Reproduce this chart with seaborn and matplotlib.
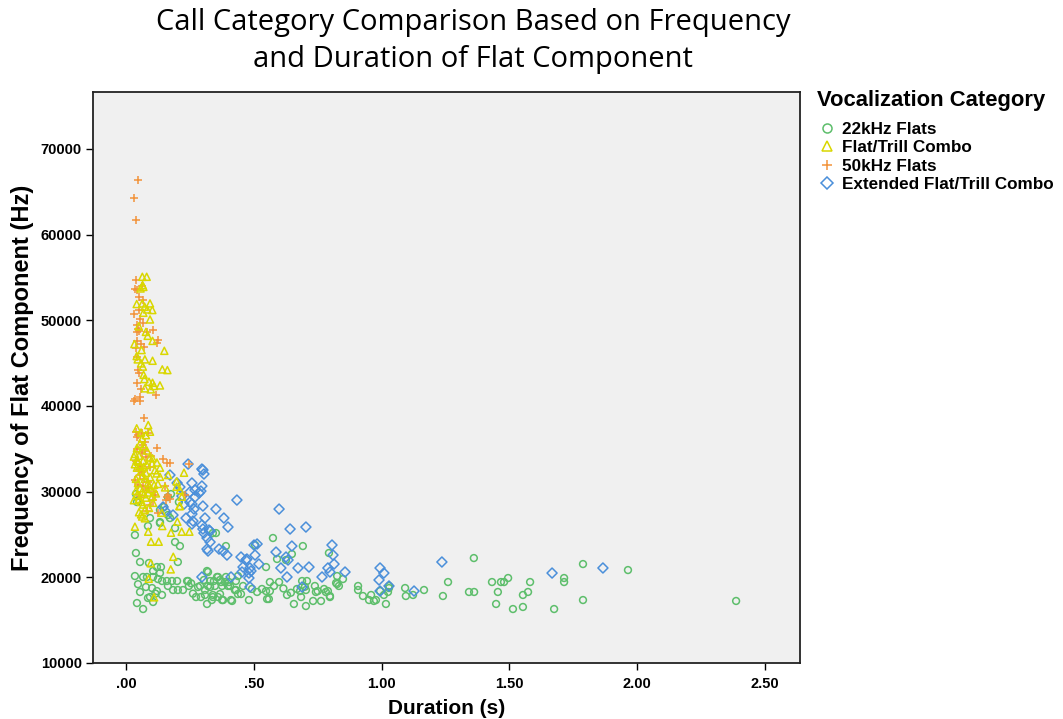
import matplotlib
matplotlib.use("Agg")
import matplotlib.pyplot as plt
import seaborn as sns
import pandas as pd
from matplotlib.lines import Line2D

categories = ["22kHz Flats", "Flat/Trill Combo", "50kHz Flats", "Extended Flat/Trill Combo"]
colors = ["#5DBE6B", "#D9D700", "#F2933A", "#4A8FDA"]
markers = ["o", "^", "+", "D"]

green_dur = [1.361, 1.260, 1.432, 1.467, 1.479, 1.495, 1.581, 1.455, 1.573, 1.553, 1.448, 1.514, 1.553, 1.675,
             1.714, 1.714, 1.788, 1.788, 1.964, 2.387, 1.342, 1.362, 1.240, 1.166, 1.123, 1.095, 1.092, 1.029,
             1.029, 1.017, 1.025, 0.994, 1.009, 0.959, 0.951, 0.970, 0.978, 0.927, 0.908, 0.908, 0.849, 0.833,
             0.822, 0.826, 0.798,
             0.340, 0.352, 0.391, 0.505, 0.575, 0.692, 0.794, 0.649, 0.591, 0.626, 0.548, 0.321, 0.438, 0.305,
             0.329, 0.344, 0.360, 0.372, 0.391, 0.403, 0.376, 0.348, 0.321, 0.290, 0.430, 0.458, 0.493, 0.513,
             0.532, 0.548, 0.563, 0.563, 0.579, 0.599, 0.669, 0.681, 0.630, 0.685, 0.704, 0.689, 0.708, 0.739,
             0.743, 0.775, 0.790, 0.782, 0.798, 0.826, 0.763, 0.732, 0.704, 0.657, 0.552, 0.559, 0.481, 0.450,
             0.438, 0.430, 0.415, 0.376, 0.336, 0.317, 0.309, 0.340, 0.368, 0.399,
             0.043, 0.094, 0.133, 0.035, 0.192, 0.211, 0.039, 0.055, 0.090, 0.121, 0.137, 0.106, 0.133, 0.035,
             0.067, 0.082, 0.106, 0.125, 0.141, 0.160, 0.180, 0.200, 0.243, 0.078, 0.102, 0.121, 0.164, 0.184,
             0.203, 0.223, 0.246, 0.282, 0.309, 0.329, 0.356, 0.368, 0.387, 0.407, 0.426, 0.055, 0.094, 0.141,
             0.086, 0.106, 0.043, 0.067, 0.274, 0.293, 0.340, 0.360, 0.380, 0.411, 0.317, 0.239, 0.203, 0.192,
             0.164, 0.133, 0.207, 0.039, 0.164, 0.176, 0.149, 0.172, 0.133, 0.086, 0.047, 0.115, 0.255, 0.262,
             0.616, 0.645, 0.700, 0.750]
green_freq = [22250, 19450, 19450, 19450, 19450, 19920, 19450, 18290, 18290, 17940, 16890, 16300, 16540, 16300,
              19920, 19450, 21550, 17350, 20850, 17240, 18290, 18290, 17820, 18520, 17940, 17820, 18750, 18750,
              18990, 16890, 18290, 18400, 17940, 17940, 17350, 17240, 17350, 17820, 18990, 18520, 19800, 18990,
              19340, 20150, 17820,
              25170, 25170, 23650, 23770, 24590, 23650, 22840, 22720, 22140, 22020, 21200, 20620, 20150, 19690,
              19570, 19570, 20040, 19450, 20040, 19450, 18990, 18990, 18990, 18990, 19570, 18990, 18640, 18290,
              18640, 18400, 18400, 19450, 18990, 19450, 18640, 18400, 17940, 17700, 18520, 19570, 19570, 18990,
              18290, 18640, 18400, 18290, 17700, 19220, 17240, 17240, 16650, 16890, 17470, 17470, 17350, 18050,
              18050, 18520, 17240, 17350, 17350, 16890, 17940, 17940, 18050, 18990,
              28790, 26920, 26340, 24940, 24120, 23650, 22840, 21790, 21670, 21200, 21200, 20740, 20500, 20150,
              20040, 20040, 20040, 19800, 19570, 19570, 19570, 19570, 19570, 18870, 18750, 18400, 18990, 18520,
              18520, 18520, 18990, 18870, 18520, 18870, 20040, 19690, 19450, 18990, 18520, 18290, 17700, 17940,
              17590, 17120, 17000, 16300, 17700, 17700, 17700, 17700, 17350, 17350, 20740, 19570, 21790, 25750,
              27270, 27860, 28790, 29720, 29370, 29720, 28210, 26920, 26450, 25990, 19200, 18100, 19300, 18100,
              18700, 18200, 18900, 18400]

yellow_dur = [0.064, 0.081, 0.065, 0.057, 0.068, 0.094, 0.042, 0.064, 0.073, 0.083, 0.103, 0.068, 0.094, 0.078,
              0.085, 0.104, 0.150, 0.033, 0.061, 0.042, 0.046, 0.059, 0.074, 0.104, 0.142, 0.162, 0.069, 0.072,
              0.090, 0.104, 0.110, 0.133, 0.097, 0.074,
              0.087, 0.042, 0.094, 0.042, 0.104, 0.133, 0.120, 0.165, 0.227, 0.211, 0.153, 0.198, 0.218, 0.211,
              0.035, 0.043, 0.047, 0.051, 0.055, 0.059, 0.063, 0.067, 0.070, 0.074, 0.078, 0.082, 0.086, 0.090,
              0.039, 0.047, 0.055, 0.063, 0.070, 0.078, 0.086, 0.043, 0.051, 0.059, 0.067, 0.039, 0.094, 0.098,
              0.102, 0.110, 0.117, 0.125, 0.055, 0.063, 0.070, 0.035, 0.043, 0.031, 0.051, 0.063, 0.074, 0.090,
              0.106, 0.082, 0.094, 0.102, 0.113, 0.121, 0.133, 0.078,
              0.035, 0.074, 0.087, 0.098, 0.128, 0.142, 0.176, 0.209, 0.201, 0.218, 0.248, 0.185, 0.175, 0.097,
              0.089, 0.110, 0.059, 0.140, 0.198, 0.031, 0.059, 0.066, 0.050]
yellow_freq = [55080, 55080, 54110, 53720, 53900, 51970, 51900, 51970, 51580, 51270, 51200, 50880, 50100, 48650,
               48190, 47600, 46440, 47230, 46530, 45830, 45440, 44970, 45440, 45280, 44270, 44190, 43640, 43140,
               42830, 42710, 42330, 42400, 41940, 42060,
               37770, 37390, 37000, 33690, 33890, 31740, 32130, 31940, 32210, 30190, 30500, 30580, 29410, 28320,
               33200, 32800, 33500, 34200, 33000, 32400, 31800, 33600, 32900, 31500, 32200, 33100, 31000, 30600,
               31500, 31000, 30400, 30000, 29700, 29300, 29900, 29600, 29100, 28800, 28500, 30100, 31700, 30300,
               29400, 30800, 29800, 30900, 35600, 36200, 35300, 34400, 35100, 29000, 27600, 27100, 27900, 28100,
               28700, 34800, 34000, 33300, 32500, 33400, 32800, 36600,
               25910, 26890, 25330, 24160, 24160, 25990, 25210, 28320, 26490, 25330, 25330, 22400, 20930, 21640,
               19840, 17670, 27350, 27540, 31200, 34100, 36900, 44600, 49300]

orange_dur = [0.047, 0.030, 0.039, 0.039, 0.035, 0.043, 0.063, 0.051, 0.067, 0.031, 0.051, 0.055, 0.067, 0.043,
              0.047, 0.051, 0.043, 0.082, 0.106, 0.125, 0.121, 0.043, 0.059, 0.070, 0.039, 0.043, 0.047, 0.051,
              0.043, 0.059, 0.117, 0.055, 0.035, 0.031, 0.055, 0.070, 0.039, 0.047, 0.063, 0.043, 0.074, 0.086,
              0.121, 0.067, 0.063, 0.074, 0.145, 0.160, 0.172, 0.051, 0.094, 0.055, 0.067, 0.078, 0.110, 0.164,
              0.172, 0.106, 0.156, 0.094, 0.246, 0.086, 0.035, 0.153, 0.113, 0.231, 0.160, 0.086, 0.059, 0.078,
              0.125, 0.043, 0.098, 0.055, 0.047, 0.039, 0.063, 0.070, 0.082]
orange_freq = [66400, 64270, 61700, 54700, 53650, 53530, 54000, 52700, 52360, 50730, 51200, 50150, 49680, 49450,
               48980, 48800, 48630, 48630, 48860, 47700, 47400, 47580, 47230, 46880, 46760, 45710, 44190, 43840,
               42680, 41980, 41280, 41040, 40810, 40580, 40580, 38590, 36960, 36610, 36840, 36400, 35790, 36840,
               35090, 35440, 34510, 34800, 33810, 33340, 33340, 32520, 32870, 31900, 30660, 30200, 29960, 29610,
               29200, 29020, 29020, 28440, 33220, 31120, 31400, 30660, 29610, 29610, 29370, 30420, 33000, 34000,
               27510, 35000, 34200, 29500, 30800, 33600, 32300, 31500, 27800]

blue_dur = [0.243, 0.297, 0.305, 0.172, 0.200, 0.211, 0.258, 0.297, 0.250, 0.270, 0.286, 0.293, 0.219, 0.270,
            0.250, 0.434, 0.258, 0.227, 0.301, 0.145, 0.266, 0.352, 0.153, 0.258, 0.184, 0.309, 0.235, 0.383,
            0.599, 0.262, 0.258, 0.297, 0.399, 0.642, 0.704, 0.329, 0.305, 0.317, 0.329, 0.513, 0.501, 0.649,
            0.806, 0.317, 0.321, 0.364, 0.380, 0.395, 0.587, 0.626, 0.634, 0.810, 0.450, 0.469, 0.520, 0.606,
            0.673, 0.716, 0.814, 0.790, 0.458, 0.485, 0.454, 0.481, 0.489, 0.481, 0.630, 0.767, 0.297, 0.689,
            0.485, 0.411, 0.857, 0.994, 1.009, 0.990, 1.029, 0.994, 1.127, 1.236, 1.667, 1.866, 0.798, 0.325,
            0.301, 0.473, 0.505, 0.301]
blue_freq = [33220, 32640, 32060, 31940, 31010, 30540, 31010, 30660, 29960, 30190, 29840, 30070, 29490, 29370,
             28790, 29020, 28550, 28550, 28320, 28210, 27970, 27970, 27740, 27390, 27270, 26920, 26920, 26920,
             27970, 26570, 26220, 26100, 25870, 25640, 25870, 25400, 25170, 24590, 24120, 23890, 23770, 23650,
             23770, 23300, 23070, 23300, 23070, 22600, 22950, 22370, 22020, 22600, 22370, 22020, 21550, 21090,
             21090, 21200, 21550, 21090, 21200, 21090, 20620, 20500, 20740, 19920, 20040, 20040, 20040, 18870,
             18870, 20040, 20620, 21090, 20500, 19690, 18990, 18400, 18400, 21790, 20500, 21090, 20620, 25520,
             25640, 22140, 22600, 32520]

x_ticks = [0.0, 0.5, 1.0, 1.5, 2.0, 2.5]
x_tick_labels = [".00", ".50", "1.00", "1.50", "2.00", "2.50"]
y_ticks = [10000, 20000, 30000, 40000, 50000, 60000, 70000]

series = [(green_dur, green_freq), (yellow_dur, yellow_freq), (orange_dur, orange_freq), (blue_dur, blue_freq)]
frames = []
for cat, (d, f) in zip(categories, series):
    frames.append(pd.DataFrame({"Duration": d, "Frequency": f, "Category": cat}))
df = pd.concat(frames, ignore_index=True)

sns.set_theme(style="white")
plt.rcParams["font.family"] = ["Liberation Sans", "DejaVu Sans"]
plt.rcParams["text.color"] = "black"
plt.rcParams["axes.labelcolor"] = "black"
plt.rcParams["xtick.color"] = "black"
plt.rcParams["ytick.color"] = "black"

fig = plt.figure(figsize=(10.63, 7.19), dpi=100)
ax = fig.add_axes([93 / 1063, 1 - 663 / 719, (800 - 93) / 1063, (663 - 92) / 719])
ax.set_facecolor("#F0F0F0")

sizes = {"o": 24, "^": 26, "+": 36, "D": 26}
draw_order = [0, 3, 2, 1]
for i in draw_order:
    cat = categories[i]
    sub = df[df["Category"] == cat]
    m = markers[i]
    if m == "+":
        sns.scatterplot(data=sub, x="Duration", y="Frequency", marker=m, color=colors[i],
                        s=sizes[m], linewidth=1.1, ax=ax, legend=False, zorder=3)
    else:
        sns.scatterplot(data=sub, x="Duration", y="Frequency", marker=m, s=sizes[m],
                        facecolor="none", edgecolor=colors[i], linewidth=1.1, ax=ax,
                        legend=False, zorder=3)

ax.set_xlim(-0.129, 2.637)
ax.set_ylim(10000, 76650)
ax.set_xticks(x_ticks)
ax.set_xticklabels(x_tick_labels)
ax.set_yticks(y_ticks)
ax.set_yticklabels([str(v) for v in y_ticks])

for lab in ax.get_xticklabels() + ax.get_yticklabels():
    lab.set_fontfamily(["Liberation Sans Narrow", "Liberation Sans"])
    lab.set_fontweight("bold")
    lab.set_fontsize(10.5)
    lab.set_color("black")
ax.tick_params(axis="both", direction="out", length=5, width=1, color="black", bottom=True, left=True)
ax.tick_params(axis="x", pad=5)
ax.tick_params(axis="y", pad=3)

for sp in ax.spines.values():
    sp.set_color("#222222")
    sp.set_linewidth(1.3)

ax.set_xlabel("Duration (s)", fontsize=15, fontweight="bold", labelpad=6, color="black")
ax.set_ylabel("Frequency of Flat Component (Hz)", fontsize=17, fontweight="bold", labelpad=5, color="black")

fig.text(473 / 1063, 1 - 41 / 719, "Call Category Comparison Based on Frequency\nand Duration of Flat Component",
         ha="center", va="center", fontsize=21, family=["Open Sans", "DejaVu Sans"], linespacing=1.32,
         color="black")

handles = []
for i, cat in enumerate(categories):
    m = markers[i]
    if m == "+":
        h = Line2D([], [], linestyle="none", marker=m, color=colors[i], markersize=7, markeredgewidth=1.1)
    else:
        h = Line2D([], [], linestyle="none", marker=m, markerfacecolor="none", markeredgecolor=colors[i],
                   markersize=6.5 if m != "D" else 6, markeredgewidth=1.1)
    handles.append(h)
leg = fig.legend(handles, categories, loc="upper left", bbox_to_anchor=(803 / 1063, 1 - 76 / 719),
                 frameon=False, title="Vocalization Category", alignment="left",
                 prop={"weight": "bold", "size": 12.3}, handlelength=1.2, handletextpad=0.3,
                 labelspacing=0.2, borderpad=0.3)
leg.get_title().set_fontsize(15.8)
leg.get_title().set_fontweight("bold")
leg.get_title().set_color("black")
leg._legend_box.sep = 8
for t in leg.get_texts():
    t.set_color("black")

fig.savefig("out.png", dpi=100)
